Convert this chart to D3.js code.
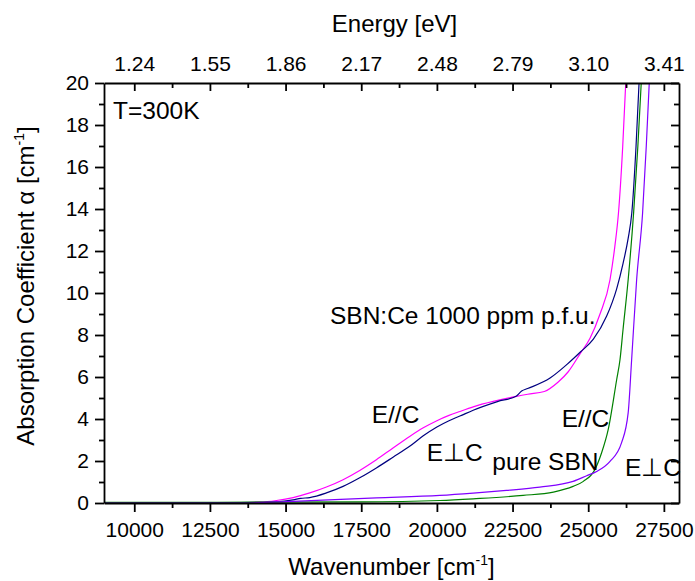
<!DOCTYPE html>
<html>
<head>
<meta charset="utf-8">
<script src="https://cdn.jsdelivr.net/npm/d3@7"></script>
<style>
  body { margin: 0; background: #fff; }
  svg { display: block; font-family: Arial, "Liberation Sans", sans-serif; }
  .axis text { font-size: 21px; fill: #000; }
  .axis line, .axis path { stroke: #000; stroke-width: 1.8; }
  .title { font-size: 24px; fill: #000; }
  .note { font-size: 24.5px; fill: #000; }
</style>
</head>
<body>
<div id="chart"></div>
<script>
// tick values / labels
const wavenumberTicks = [10000, 12500, 15000, 17500, 20000, 22500, 25000, 27500];
const energyLabels = ["1.24", "1.55", "1.86", "2.17", "2.48", "2.79", "3.10", "3.41"];
const alphaTicks = [0, 2, 4, 6, 8, 10, 12, 14, 16, 18, 20];

// SBN:Ce, E//C (magenta)
const ceParW = [9000, 13500, 14150, 14700, 15250, 15800, 16350, 16900, 17450, 18000, 18550, 19100, 19550, 20000, 20400, 20760, 21200, 21900, 22630, 23000, 23550, 24000, 24340, 24750, 25060, 25390, 25720, 25880, 26000, 26140, 26240];
const ceParA = [0.02, 0.02, 0.04, 0.12, 0.26, 0.48, 0.76, 1.11, 1.55, 2.06, 2.62, 3.17, 3.58, 3.92, 4.17, 4.36, 4.58, 4.85, 5.08, 5.18, 5.31, 5.75, 6.25, 7.15, 7.85, 9.0, 10.63, 12.22, 13.81, 16.98, 20];

// SBN:Ce, E perp C (navy)
const cePerpW = [9000, 13500, 14700, 15250, 15500, 15800, 16350, 16900, 17450, 18000, 18550, 19100, 19550, 20000, 20400, 20760, 21200, 22000, 22630, 22800, 23000, 23740, 24300, 24750, 25170, 25610, 25940, 26150, 26320, 26440, 26580, 26680];
const cePerpA = [0.02, 0.02, 0.06, 0.15, 0.22, 0.26, 0.48, 0.79, 1.2, 1.67, 2.18, 2.7, 3.2, 3.62, 3.92, 4.14, 4.42, 4.83, 5.1, 5.33, 5.45, 5.95, 6.6, 7.2, 7.8, 8.9, 10.2, 11.4, 12.6, 13.81, 16.98, 20];

// pure SBN, E//C (green)
const pureParW = [9000, 17500, 20100, 21200, 22850, 23850, 24500, 24840, 25220, 25440, 25660, 25940, 26050, 26150, 26320, 26500, 26640, 26752];
const pureParA = [0.03, 0.05, 0.12, 0.2, 0.36, 0.52, 0.79, 1.03, 1.59, 2.38, 3.49, 5.87, 6.82, 8.25, 10.63, 13.81, 16.98, 20];

// pure SBN, E perp C (violet)
const purePerpW = [9000, 13500, 15250, 18000, 20100, 21200, 22300, 23400, 24500, 24950, 25280, 25720, 26100, 26320, 26435, 26600, 26797, 26918, 27017];
const purePerpA = [0, 0, 0.08, 0.24, 0.36, 0.47, 0.6, 0.76, 1.03, 1.3, 1.5, 1.98, 2.86, 4.29, 6.82, 10.63, 13.81, 16.98, 20];

const seriesColors = ["#ff00ff", "#000080", "#008000", "#8000ff"];

class AbsorptionChart {
  constructor(el) {
    this.el = el;
    this.width = 695;
    this.height = 581;
    this.margin = { top: 83, right: 16, bottom: 78, left: 104 };
    this.init();
  }

  init() {
    const m = this.margin;
    this.x = d3.scaleLinear().domain([9000, 28000]).range([m.left, this.width - m.right]);
    this.y = d3.scaleLinear().domain([0, 20]).range([this.height - m.bottom, m.top]);

    this.svg = d3.select(this.el).append("svg")
      .attr("width", this.width)
      .attr("height", this.height);

    this.svg.append("clipPath").attr("id", "plot-clip")
      .append("rect")
      .attr("x", m.left).attr("y", m.top)
      .attr("width", this.width - m.left - m.right)
      .attr("height", this.height - m.top - m.bottom);

    this.renderCurves();
    this.renderAxes();
    this.renderText();
  }

  renderCurves() {
    const series = [
      [ceParW, ceParA],
      [cePerpW, cePerpA],
      [pureParW, pureParA],
      [purePerpW, purePerpA],
    ];
    const line = d3.line()
      .x((d) => this.x(d[0]))
      .y((d) => this.y(d[1]))
      .curve(d3.curveMonotoneX);

    this.svg.append("g")
      .attr("clip-path", "url(#plot-clip)")
      .selectAll("path")
      .data(series.map(([w, a]) => w.map((v, i) => [v, a[i]])))
      .join("path")
      .attr("fill", "none")
      .attr("stroke", (d, i) => seriesColors[i])
      .attr("stroke-width", 1.2)
      .attr("d", line);
  }

  renderAxes() {
    const m = this.margin;
    const bottom = this.height - m.bottom;
    const right = this.width - m.right;
    const minorW = wavenumberTicks.map((d) => d + 1250).filter((d) => d < 28000);
    const minorA = d3.range(1, 20, 2);

    // bottom
    this.svg.append("g").attr("class", "axis")
      .attr("transform", `translate(0,${bottom})`)
      .call(d3.axisBottom(this.x).tickValues(minorW).tickSize(5).tickFormat(""))
      .call((g) => g.select(".domain").remove());
    this.svg.append("g").attr("class", "axis")
      .attr("transform", `translate(0,${bottom})`)
      .call(d3.axisBottom(this.x).tickValues(wavenumberTicks).tickSizeInner(9).tickSizeOuter(0).tickPadding(10).tickFormat(d3.format("d")));

    // top (ticks inward)
    this.svg.append("g").attr("class", "axis")
      .attr("transform", `translate(0,${m.top})`)
      .call(d3.axisTop(this.x).tickValues(minorW).tickSize(-5).tickFormat(""))
      .call((g) => g.select(".domain").remove());
    this.svg.append("g").attr("class", "axis")
      .attr("transform", `translate(0,${m.top})`)
      .call(d3.axisTop(this.x).tickValues(wavenumberTicks).tickSizeInner(-8).tickSizeOuter(0).tickPadding(12)
        .tickFormat((d, i) => energyLabels[i]));

    // left
    this.svg.append("g").attr("class", "axis")
      .attr("transform", `translate(${m.left},0)`)
      .call(d3.axisLeft(this.y).tickValues(minorA).tickSize(5).tickFormat(""))
      .call((g) => g.select(".domain").remove());
    this.svg.append("g").attr("class", "axis")
      .attr("transform", `translate(${m.left},0)`)
      .call(d3.axisLeft(this.y).tickValues(alphaTicks).tickSizeInner(9).tickSizeOuter(0).tickPadding(6));

    // right (ticks inward, no labels)
    this.svg.append("g").attr("class", "axis")
      .attr("transform", `translate(${right},0)`)
      .call(d3.axisRight(this.y).tickValues(minorA).tickSize(-5).tickFormat(""))
      .call((g) => g.select(".domain").remove());
    this.svg.append("g").attr("class", "axis")
      .attr("transform", `translate(${right},0)`)
      .call(d3.axisRight(this.y).tickValues(alphaTicks).tickSizeInner(-8).tickSizeOuter(0).tickFormat(""));
  }

  renderText() {
    const m = this.margin;
    const cx = (m.left + this.width - m.right) / 2;

    this.svg.append("text").attr("class", "title")
      .attr("x", cx + 3).attr("y", 32)
      .attr("text-anchor", "middle")
      .text("Energy [eV]");

    const xt = this.svg.append("text").attr("class", "title")
      .attr("x", cx).attr("y", 575)
      .attr("text-anchor", "middle");
    xt.append("tspan").text("Wavenumber [cm");
    xt.append("tspan").attr("font-size", 14).attr("dy", -10).text("-1");
    xt.append("tspan").attr("dy", 10).text("]");

    const yt = this.svg.append("text").attr("class", "title")
      .attr("font-size", 25)
      .attr("transform", `translate(34,286) rotate(-90)`)
      .attr("text-anchor", "middle");
    yt.append("tspan").text("Absorption Coefficient \u03b1  [cm");
    yt.append("tspan").attr("font-size", 14).attr("dy", -10).text("-1");
    yt.append("tspan").attr("dy", 10).text("]");

    const notes = [
      ["T=300K", 9300, 18.3],
      ["SBN:Ce 1000 ppm p.f.u.", 16467, 8.54],
      ["E//C", 17845, 3.82],
      ["E\u22a5C", 19662, 1.98],
      ["pure SBN", 21830, 1.55],
      ["E//C", 24123, 3.6],
      ["E\u22a5C", 26214, 1.27],
    ];
    this.svg.append("g")
      .selectAll("text")
      .data(notes)
      .join("text")
      .attr("class", "note")
      .attr("x", (d) => this.x(d[1]))
      .attr("y", (d) => this.y(d[2]))
      .text((d) => d[0]);
  }
}

new AbsorptionChart(document.getElementById("chart"));
</script>
</body>
</html>
